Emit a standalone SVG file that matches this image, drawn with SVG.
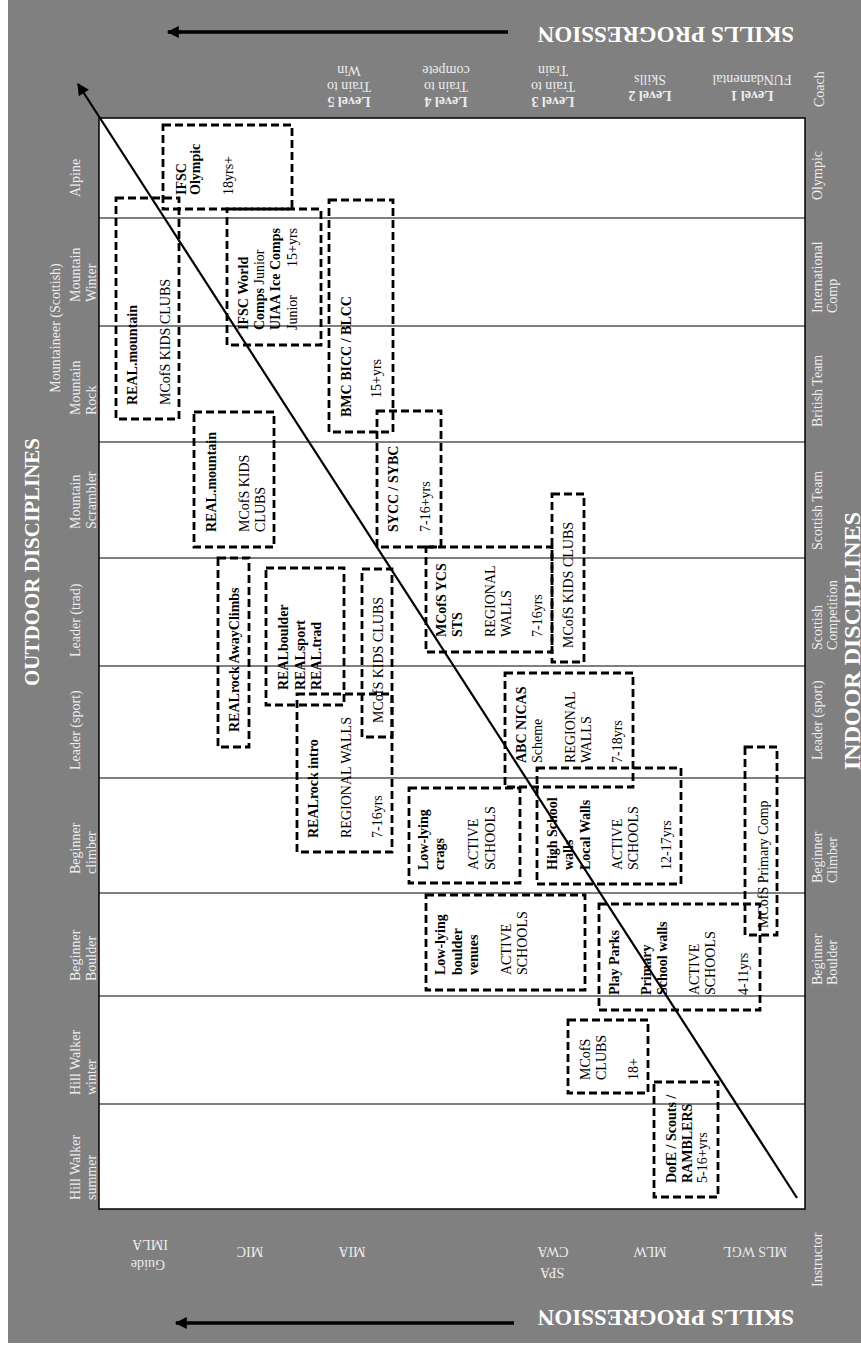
<svg xmlns="http://www.w3.org/2000/svg" width="861" height="1346" viewBox="0 0 861 1346">
<style>
.lb{font-family:"Liberation Serif","Times New Roman",serif;font-size:14px;fill:#ececec}
.hd{font-family:"Liberation Serif","Times New Roman",serif;font-weight:bold;fill:#ffffff}
.t{font-family:"Liberation Serif","Times New Roman",serif;font-size:14px;fill:#000}
.b{font-weight:bold}
.box{fill:none;stroke:#000;stroke-width:2.8;stroke-dasharray:8 4}
.grid{stroke:#000;stroke-width:1.2}
</style>
<defs>
<marker id="ah" viewBox="0 0 10 10" refX="9" refY="5" markerWidth="14" markerHeight="12" markerUnits="userSpaceOnUse" orient="auto">
<path d="M0,0 L10,5 L0,10 z" fill="#000"/>
</marker>
</defs>
<rect x="8" y="0" width="853" height="1343" fill="#808080"/>
<g id="plot">
<rect x="99" y="118" width="706" height="1091" fill="#fff" stroke="#000" stroke-width="1.5"/>
<line class="grid" x1="99" y1="218" x2="805" y2="218"/>
<line class="grid" x1="99" y1="326" x2="805" y2="326"/>
<line class="grid" x1="99" y1="442" x2="805" y2="442"/>
<line class="grid" x1="99" y1="558" x2="805" y2="558"/>
<line class="grid" x1="99" y1="666" x2="805" y2="666"/>
<line class="grid" x1="99" y1="778" x2="805" y2="778"/>
<line class="grid" x1="99" y1="893" x2="805" y2="893"/>
<line class="grid" x1="99" y1="996" x2="805" y2="996"/>
<line class="grid" x1="99" y1="1104" x2="805" y2="1104"/>
</g>
<g id="headers">
<text class="hd" font-size="23" transform="translate(794,27) rotate(180)">SKILLS PROGRESSION</text>
<text class="hd" font-size="23" transform="translate(794,1310) rotate(180)">SKILLS PROGRESSION</text>
<text class="hd" font-size="21" text-anchor="middle" transform="translate(39,562) rotate(-90)">OUTDOOR DISCIPLINES</text>
<text class="hd" font-size="24" transform="translate(860,770) rotate(-90)">INDOOR DISCIPLINES</text>
<text class="lb" text-anchor="middle" transform="translate(60,328) rotate(-90)">Mountaineer (Scottish)</text>
<text class="lb" transform="translate(824,107) rotate(-90)">Coach</text>
<text class="lb" transform="translate(822,1287) rotate(-90)">Instructor</text>
</g>
<g id="levels" class="lb" text-anchor="middle" font-size="15">
<text transform="translate(752,91) rotate(180)" class="b">Level 1</text>
<text transform="translate(752,75) rotate(180)">FUNdamental</text>
<text transform="translate(650,91) rotate(180)" class="b">Level 2</text>
<text transform="translate(650,75) rotate(180)">Skills</text>
<text transform="translate(553,97) rotate(180)" class="b">Level 3</text>
<text transform="translate(553,82) rotate(180)">Train to</text>
<text transform="translate(553,66) rotate(180)">Train</text>
<text transform="translate(446,97) rotate(180)" class="b">Level 4</text>
<text transform="translate(446,82) rotate(180)">Train to</text>
<text transform="translate(446,66) rotate(180)">compete</text>
<text transform="translate(349,97) rotate(180)" class="b">Level 5</text>
<text transform="translate(349,82) rotate(180)">Train to</text>
<text transform="translate(349,66) rotate(180)">Win</text>
</g>
<g id="instructors" class="lb" text-anchor="middle" font-size="15">
<text transform="translate(755,1247) rotate(180)">MLS WGL</text>
<text transform="translate(650,1247) rotate(180)">MLW</text>
<text transform="translate(552,1268) rotate(180)">SPA</text>
<text transform="translate(553,1247) rotate(180)">CWA</text>
<text transform="translate(352,1247) rotate(180)">MIA</text>
<text transform="translate(250,1247) rotate(180)">MIC</text>
<text transform="translate(148,1260) rotate(180)">Guide</text>
<text transform="translate(150,1240) rotate(180)">IMLA</text>
</g>
<g id="outdoor" class="lb">
<text transform="translate(80,197) rotate(-90)">Alpine</text>
<text transform="translate(80,302) rotate(-90)">Mountain</text>
<text transform="translate(96,302) rotate(-90)">Winter</text>
<text transform="translate(80,415) rotate(-90)">Mountain</text>
<text transform="translate(96,415) rotate(-90)">Rock</text>
<text transform="translate(80,529) rotate(-90)">Mountain</text>
<text transform="translate(96,529) rotate(-90)">Scrambler</text>
<text transform="translate(80,657) rotate(-90)">Leader (trad)</text>
<text transform="translate(80,770) rotate(-90)">Leader (sport)</text>
<text transform="translate(80,874) rotate(-90)">Beginner</text>
<text transform="translate(96,874) rotate(-90)">climber</text>
<text transform="translate(80,981) rotate(-90)">Beginner</text>
<text transform="translate(96,981) rotate(-90)">Boulder</text>
<text transform="translate(80,1095) rotate(-90)">Hill Walker</text>
<text transform="translate(96,1095) rotate(-90)">winter</text>
<text transform="translate(80,1200) rotate(-90)">Hill Walker</text>
<text transform="translate(96,1200) rotate(-90)">summer</text>
</g>
<g id="indoor" class="lb">
<text transform="translate(822,200) rotate(-90)">Olympic</text>
<text transform="translate(822,313) rotate(-90)">International</text>
<text transform="translate(837,313) rotate(-90)">Comp</text>
<text transform="translate(822,427) rotate(-90)">British Team</text>
<text transform="translate(822,550) rotate(-90)">Scottish Team</text>
<text transform="translate(822,650) rotate(-90)">Scottish</text>
<text transform="translate(837,650) rotate(-90)">Competition</text>
<text transform="translate(822,760) rotate(-90)">Leader (sport)</text>
<text transform="translate(822,883) rotate(-90)">Beginner</text>
<text transform="translate(837,883) rotate(-90)">Climber</text>
<text transform="translate(822,985) rotate(-90)">Beginner</text>
<text transform="translate(837,985) rotate(-90)">Boulder</text>
</g>
<g id="n-ifsc-olympic">
<rect class="box" x="163" y="125" width="129" height="84"/>
<text class="t b" transform="translate(186,195) rotate(-90)">IFSC</text>
<text class="t b" transform="translate(200,195) rotate(-90)">Olympic</text>
<text class="t" transform="translate(233,195) rotate(-90)">18yrs+</text>
</g>
<g id="n-realmountain-1">
<rect class="box" x="116" y="198" width="63" height="221"/>
<text class="t b" transform="translate(137,405) rotate(-90)">REAL.mountain</text>
<text class="t" transform="translate(170,405) rotate(-90)">MCofS KIDS CLUBS</text>
</g>
<g id="n-ifsc-world">
<rect class="box" x="227" y="209" width="94" height="136"/>
<text class="t b" transform="translate(248,330) rotate(-90)">IFSC World</text>
<text class="t" transform="translate(264,330) rotate(-90)"><tspan class="b">Comps</tspan> Junior</text>
<text class="t b" transform="translate(280,330) rotate(-90)">UIAA Ice Comps</text>
<text class="t" transform="translate(297,330) rotate(-90)">Junior</text>
<text class="t" transform="translate(297,267) rotate(-90)">15+yrs</text>
</g>
<g id="n-bmc">
<rect class="box" x="329" y="200" width="64" height="232"/>
<text class="t b" transform="translate(351,417) rotate(-90)">BMC BICC / BLCC</text>
<text class="t" transform="translate(381,398) rotate(-90)">15+yrs</text>
</g>
<g id="n-realmountain-2">
<rect class="box" x="194" y="412" width="80" height="135"/>
<text class="t b" transform="translate(216,532) rotate(-90)">REAL.mountain</text>
<text class="t" transform="translate(249,532) rotate(-90)">MCofS KIDS</text>
<text class="t" transform="translate(265,532) rotate(-90)">CLUBS</text>
</g>
<g id="n-sycc">
<rect class="box" x="377" y="411" width="64" height="136"/>
<text class="t b" transform="translate(398,532) rotate(-90)">SYCC / SYBC</text>
<text class="t" transform="translate(430,532) rotate(-90)">7-16+yrs</text>
</g>
<g id="n-ycs">
<rect class="box" x="426" y="547" width="126" height="105"/>
<text class="t b" transform="translate(446,637) rotate(-90)">MCofS YCS</text>
<text class="t b" transform="translate(462,637) rotate(-90)">STS</text>
<text class="t" transform="translate(495,637) rotate(-90)">REGIONAL</text>
<text class="t" transform="translate(511,637) rotate(-90)">WALLS</text>
<text class="t" transform="translate(542,637) rotate(-90)">7-16yrs</text>
</g>
<g id="n-kids-right">
<rect class="box" x="552" y="494" width="32" height="168"/>
<text class="t" transform="translate(573,648) rotate(-90)">MCofS KIDS CLUBS</text>
</g>
<g id="n-awayclimbs">
<rect class="box" x="218" y="558" width="31" height="189"/>
<text class="t b" transform="translate(239,732) rotate(-90)">REALrock AwayClimbs</text>
</g>
<g id="n-realboulder">
<rect class="box" x="266" y="568" width="78" height="137"/>
<text class="t b" transform="translate(288,690) rotate(-90)">REALboulder</text>
<text class="t b" transform="translate(305,690) rotate(-90)">REALsport</text>
<text class="t b" transform="translate(321,690) rotate(-90)">REAL.trad</text>
</g>
<g id="n-kids-mid">
<rect class="box" x="362" y="569" width="30" height="168"/>
<text class="t" transform="translate(383,723) rotate(-90)">MCofS KIDS CLUBS</text>
</g>
<g id="n-realrock-intro">
<rect class="box" x="297" y="694" width="95" height="158"/>
<text class="t b" transform="translate(318,838) rotate(-90)">REALrock intro</text>
<text class="t" transform="translate(351,838) rotate(-90)">REGIONAL WALLS</text>
<text class="t" transform="translate(382,838) rotate(-90)">7-16yrs</text>
</g>
<g id="n-abc">
<rect class="box" x="505" y="673" width="128" height="114"/>
<text class="t b" transform="translate(526,763) rotate(-90)">ABC NICAS</text>
<text class="t" transform="translate(542,763) rotate(-90)">Scheme</text>
<text class="t" transform="translate(575,763) rotate(-90)">REGIONAL</text>
<text class="t" transform="translate(591,763) rotate(-90)">WALLS</text>
<text class="t" transform="translate(622,763) rotate(-90)">7-18yrs</text>
</g>
<g id="n-crags">
<rect class="box" x="409" y="788" width="111" height="95"/>
<text class="t b" transform="translate(428,870) rotate(-90)">Low-lying</text>
<text class="t b" transform="translate(444,870) rotate(-90)">crags</text>
<text class="t" transform="translate(478,870) rotate(-90)">ACTIVE</text>
<text class="t" transform="translate(495,870) rotate(-90)">SCHOOLS</text>
</g>
<g id="n-highschool">
<rect class="box" x="537" y="768" width="144" height="116"/>
<text class="t b" transform="translate(557,870) rotate(-90)">High School</text>
<text class="t b" transform="translate(573,870) rotate(-90)">walls</text>
<text class="t b" transform="translate(590,870) rotate(-90)">Local Walls</text>
<text class="t" transform="translate(622,870) rotate(-90)">ACTIVE</text>
<text class="t" transform="translate(638,870) rotate(-90)">SCHOOLS</text>
<text class="t" transform="translate(671,870) rotate(-90)">12-17yrs</text>
</g>
<g id="n-boulder-venues">
<rect class="box" x="426" y="895" width="159" height="95"/>
<text class="t b" transform="translate(445,975) rotate(-90)">Low-lying</text>
<text class="t b" transform="translate(462,975) rotate(-90)">boulder</text>
<text class="t b" transform="translate(478,975) rotate(-90)">venues</text>
<text class="t" transform="translate(511,975) rotate(-90)">ACTIVE</text>
<text class="t" transform="translate(527,975) rotate(-90)">SCHOOLS</text>
</g>
<g id="n-playparks">
<rect class="box" x="599" y="904" width="161" height="106"/>
<text class="t b" transform="translate(619,995) rotate(-90)">Play Parks</text>
<text class="t b" transform="translate(651,995) rotate(-90)">Primary</text>
<text class="t b" transform="translate(667,995) rotate(-90)">School walls</text>
<text class="t" transform="translate(699,995) rotate(-90)">ACTIVE</text>
<text class="t" transform="translate(715,995) rotate(-90)">SCHOOLS</text>
<text class="t" transform="translate(748,995) rotate(-90)">4-11yrs</text>
</g>
<g id="n-primary-comp">
<rect class="box" x="745" y="747" width="32" height="188"/>
<text class="t" transform="translate(768,928) rotate(-90)">MCofS Primary Comp</text>
</g>
<g id="n-mcofs-clubs">
<rect class="box" x="568" y="1020" width="80" height="73"/>
<text class="t" transform="translate(590,1080) rotate(-90)">MCofS</text>
<text class="t" transform="translate(606,1080) rotate(-90)">CLUBS</text>
<text class="t" transform="translate(638,1080) rotate(-90)">18+</text>
</g>
<g id="n-dofe">
<rect class="box" x="654" y="1082" width="64" height="115"/>
<text class="t b" transform="translate(676,1183) rotate(-90)">DofE / Scouts /</text>
<text class="t b" transform="translate(692,1183) rotate(-90)">RAMBLERS</text>
<text class="t" transform="translate(707,1183) rotate(-90)">5-16+yrs</text>
</g>
<g id="connectors" stroke="#000" fill="none">
<line x1="797" y1="1198" x2="78" y2="84" stroke-width="2.2" marker-end="url(#ah)"/>
<line x1="508" y1="32" x2="168" y2="32" stroke-width="3.5" marker-end="url(#ah)"/>
<line x1="514" y1="1323" x2="176" y2="1323" stroke-width="3.5" marker-end="url(#ah)"/>
</g>
</svg>
